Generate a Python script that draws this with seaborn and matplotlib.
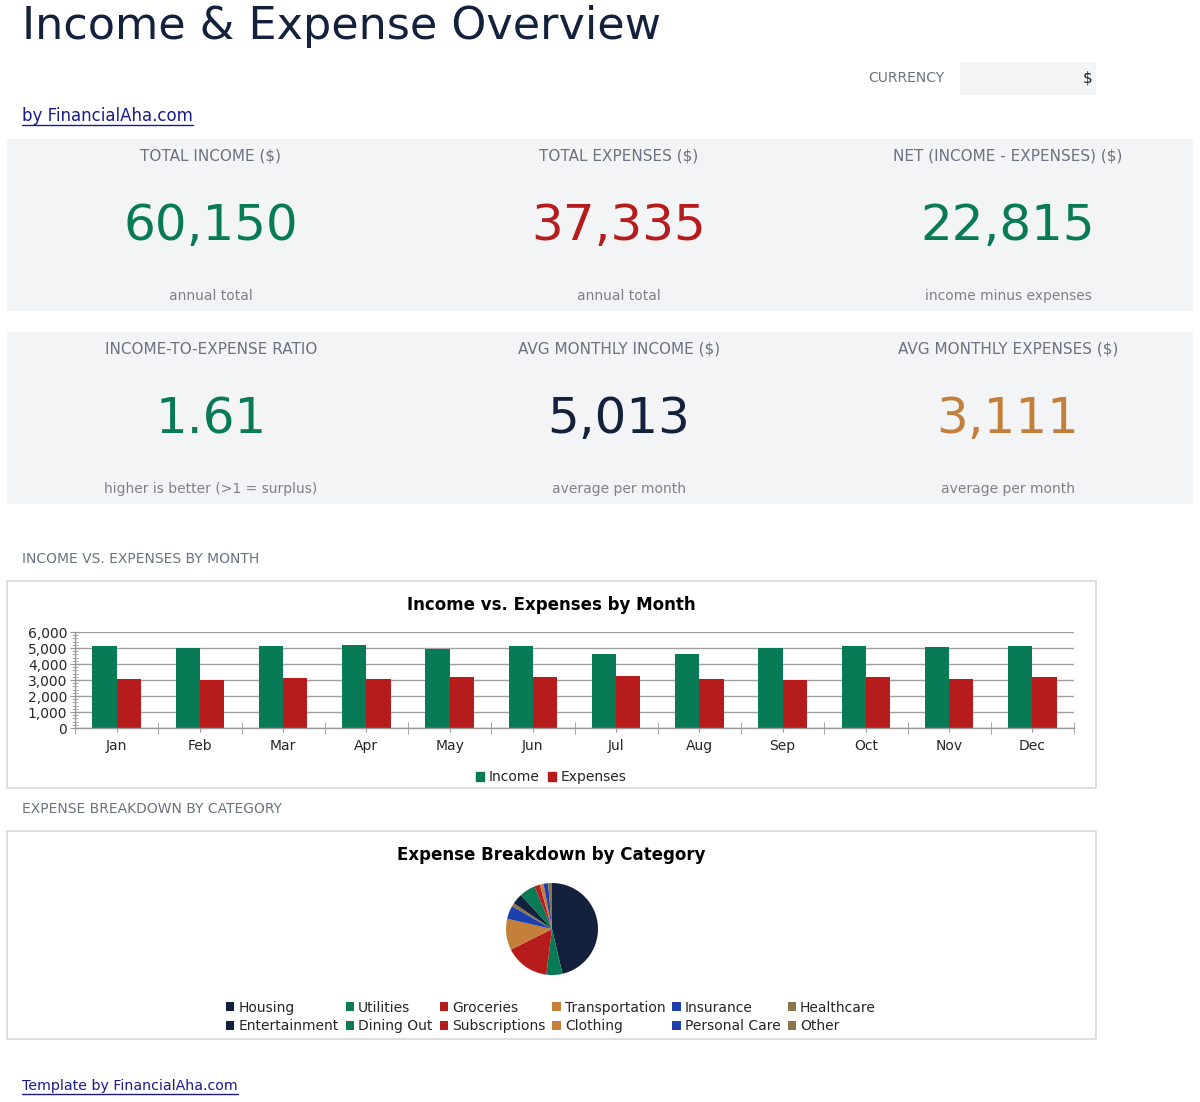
import numpy as np
import pandas as pd
import seaborn as sns
import matplotlib.pyplot as plt
from matplotlib.patches import Rectangle, Patch
from matplotlib.lines import Line2D
from matplotlib.ticker import MultipleLocator, FuncFormatter

# 数据
months = ['Jan', 'Feb', 'Mar', 'Apr', 'May', 'Jun', 'Jul', 'Aug', 'Sep', 'Oct', 'Nov', 'Dec']
income = [5150, 5000, 5150, 5200, 4950, 5100, 4650, 4650, 5000, 5150, 5050, 5100]
expenses = [3075, 3010, 3115, 3050, 3180, 3180, 3230, 3075, 3010, 3180, 3050, 3180]

categories = ['Housing', 'Utilities', 'Groceries', 'Transportation', 'Insurance', 'Healthcare',
              'Entertainment', 'Dining Out', 'Subscriptions', 'Clothing', 'Personal Care', 'Other']
cat_amounts = [17300, 2100, 5835, 4100, 1750, 450, 1400, 2100, 700, 500, 600, 500]

NAVY = '#14213d'
GREEN = '#087a55'
RED = '#b71c1c'
ORANGE = '#c47f3a'
BLUE = '#1e40af'
TAN = '#8c7549'
GRAY = '#6b7280'
SUBGRAY = '#7d828a'
CARD = '#f2f4f5'
LINK = '#1a1a8c'
cat_colors = [NAVY, GREEN, RED, ORANGE, BLUE, TAN] * 2

sns.set_style('white')
plt.rcParams['font.family'] = ['DejaVu Sans']

W, H = 1200, 1102
fig = plt.figure(figsize=(W / 100, H / 100), dpi=100)


def fx(x):
    return x / W


def fy(y):
    return 1 - y / H


def rect(x0, y0, x1, y1, fc, ec='none', lw=0):
    fig.add_artist(Rectangle((fx(x0), fy(y1)), fx(x1) - fx(x0), fy(y0) - fy(y1),
                             transform=fig.transFigure, facecolor=fc, edgecolor=ec,
                             linewidth=lw, zorder=0))


def txt(x, y, s, **kw):
    kw.setdefault('va', 'center')
    return fig.text(fx(x), fy(y), s, **kw)


links = []

# 标题区
txt(22, 27, 'Income & Expense Overview', fontsize=32, color=NAVY)
txt(868, 78, 'CURRENCY', fontsize=10, color=GRAY)
rect(960, 62, 1096, 95, CARD)
txt(1093, 78, '$', fontsize=11, color='#222222', ha='right')
links.append((txt(22, 116, 'by FinancialAha.com', fontsize=12, color=LINK), 125))

# KPI 卡片
total_inc = sum(income)
total_exp = sum(expenses)
net = total_inc - total_exp
ratio = total_inc / total_exp
avg_inc = int(total_inc / 12 + 0.5)
avg_exp = int(total_exp / 12 + 0.5)

cols = [211, 619, 1008]
row1 = [('TOTAL INCOME ($)', f'{total_inc:,}', GREEN, 'annual total'),
        ('TOTAL EXPENSES ($)', f'{total_exp:,}', RED, 'annual total'),
        ('NET (INCOME - EXPENSES) ($)', f'{net:,}', GREEN, 'income minus expenses')]
row2 = [('INCOME-TO-EXPENSE RATIO', f'{ratio:.2f}', GREEN, 'higher is better (>1 = surplus)'),
        ('AVG MONTHLY INCOME ($)', f'{avg_inc:,}', NAVY, 'average per month'),
        ('AVG MONTHLY EXPENSES ($)', f'{avg_exp:,}', ORANGE, 'average per month')]

for top, row in [(139, row1), (332, row2)]:
    rect(7, top, 1193, top + 172, CARD)
    for cx, (lab, val, c, sub) in zip(cols, row):
        txt(cx, top + 17, lab, fontsize=11, color=GRAY, ha='center')
        txt(cx, top + 87, val, fontsize=36, color=c, ha='center')
        txt(cx, top + 157, sub, fontsize=10, color=SUBGRAY, ha='center')

# 柱状图
txt(22, 559, 'INCOME VS. EXPENSES BY MONTH', fontsize=10, color=GRAY)
rect(7, 581, 1096, 788, 'white', ec='#d9d9d9', lw=1.2)
txt(551, 605, 'Income vs. Expenses by Month', fontsize=12, fontweight='bold', ha='center', color='black')

df = pd.DataFrame({'Month': months * 2,
                   'Amount': income + expenses,
                   'Type': ['Income'] * 12 + ['Expenses'] * 12})

ax = fig.add_axes([fx(75), fy(728), fx(1074) - fx(75), fy(632) - fy(728)])
sns.barplot(data=df, x='Month', y='Amount', hue='Type', palette=[GREEN, RED],
            width=0.58, ax=ax, saturation=1, legend=False, linewidth=0)
ax.set_ylim(0, 6000)
ax.set_xlim(-0.5, 11.5)
ax.set_xlabel('')
ax.set_ylabel('')
ax.yaxis.set_major_locator(MultipleLocator(1000))
ax.yaxis.set_minor_locator(MultipleLocator(200))
ax.yaxis.set_major_formatter(FuncFormatter(lambda v, p: f'{int(v):,}'))
ax.set_xticks(np.arange(-0.5, 12, 1), minor=True)
ax.grid(axis='y', which='major', color='#a0a0a0', linewidth=1)
ax.set_axisbelow(True)
for s in ['top', 'right']:
    ax.spines[s].set_visible(False)
for s in ['left', 'bottom']:
    ax.spines[s].set_color('#9a9a9a')
    ax.spines[s].set_linewidth(1)
ax.tick_params(axis='y', which='both', left=True)
ax.tick_params(axis='x', which='both', bottom=True)
ax.tick_params(axis='y', which='major', direction='inout', length=7, color='#9a9a9a', labelsize=10, pad=2)
ax.tick_params(axis='y', which='minor', direction='inout', length=5, color='#9a9a9a')
ax.tick_params(axis='x', which='major', direction='out', length=3, color='#9a9a9a', labelsize=10, pad=5)
ax.tick_params(axis='x', which='minor', direction='inout', length=8, color='#9a9a9a')

bar_handles = [Patch(color=GREEN, label='Income'), Patch(color=RED, label='Expenses')]
fig.legend(handles=bar_handles, loc='center', bbox_to_anchor=(fx(551), fy(777)), ncol=2,
           frameon=False, fontsize=10, handlelength=0.6, handleheight=0.6,
           handletextpad=0.3, columnspacing=0.6, borderpad=0)

# 饼图
txt(22, 809, 'EXPENSE BREAKDOWN BY CATEGORY', fontsize=10, color=GRAY)
rect(7, 831, 1096, 1039, 'white', ec='#d9d9d9', lw=1.2)
txt(551, 855, 'Expense Breakdown by Category', fontsize=12, fontweight='bold', ha='center', color='black')

r = 46
ax2 = fig.add_axes([fx(552 - r * 1.25), fy(929 + r * 1.25), fx(2.5 * r), fy(0) - fy(2.5 * r)])
wedges, _ = ax2.pie(cat_amounts, colors=cat_colors, startangle=90, counterclock=False,
                    wedgeprops={'linewidth': 0})
ax2.set_aspect('equal')

order = [0, 6, 1, 7, 2, 8, 3, 9, 4, 10, 5, 11]
fig.legend([wedges[i] for i in order], [categories[i] for i in order], loc='center',
           bbox_to_anchor=(fx(551), fy(1017)), ncol=6, frameon=False, fontsize=10,
           handlelength=0.6, handleheight=0.6, handletextpad=0.3, columnspacing=0.5,
           labelspacing=0.35, borderpad=0)

# 页脚
links.append((txt(22, 1086, 'Template by FinancialAha.com', fontsize=10.2, color=LINK), 1094))

# 链接下划线
fig.canvas.draw()
for t, uy in links:
    bb = t.get_window_extent()
    fig.add_artist(Line2D([bb.x0 / W, bb.x1 / W], [fy(uy), fy(uy)], color=LINK,
                          linewidth=1, transform=fig.transFigure))

plt.savefig('out.png', dpi=100)
